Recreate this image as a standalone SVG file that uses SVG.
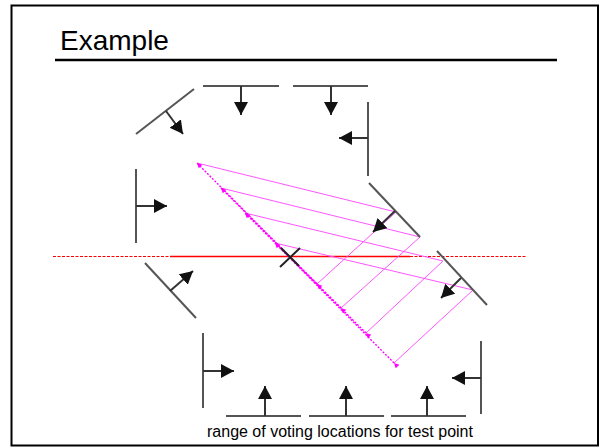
<svg xmlns="http://www.w3.org/2000/svg" width="600" height="447" viewBox="0 0 600 447">
<defs>
<marker id="ah" markerUnits="userSpaceOnUse" markerWidth="15" markerHeight="15" refX="13" refY="7" orient="auto"><path d="M0,0 L13,7 L0,14 z" fill="#111"/></marker>
<marker id="mh" markerUnits="userSpaceOnUse" markerWidth="6" markerHeight="6" refX="5" refY="2.5" orient="auto"><path d="M0,0 L5,2.5 L0,5 z" fill="#f0f"/></marker>
<style>
.wall{stroke:#555;stroke-width:2;fill:none}
.arr{stroke:#333;stroke-width:2;marker-end:url(#ah)}
.vote{stroke:#f5f;stroke-width:1;fill:none}
.range{stroke:#f0f;stroke-width:1.4;stroke-dasharray:2,1.5;fill:none;marker-start:url(#mh);marker-end:url(#mh)}
.title{font-family:"Liberation Sans",Arial,sans-serif;font-size:28px;fill:#000}
.lbl{font-family:"Liberation Sans",Arial,sans-serif;font-size:16px;fill:#000}
</style>
</defs>
<rect x="0" y="0" width="600" height="447" fill="#fff"/>
<rect x="11.5" y="5.5" width="586.5" height="440" fill="none" stroke="#000" stroke-width="2"/>
<text class="title" x="60" y="50">Example</text>
<line x1="55" y1="60" x2="557" y2="60" stroke="#000" stroke-width="2.5"/>

<g id="connectors">
<line x1="53" y1="256.5" x2="170" y2="256.5" stroke="#f00" stroke-width="1" stroke-dasharray="3,1.5"/>
<line x1="170" y1="256.5" x2="410" y2="256.5" stroke="#f00" stroke-width="1.5"/>
<line x1="410" y1="256.5" x2="526" y2="256.5" stroke="#f00" stroke-width="1" stroke-dasharray="3,1.5"/>
<line class="vote" x1="396" y1="212" x2="197" y2="163"/>
<line class="vote" x1="420" y1="237" x2="221" y2="188"/>
<line class="vote" x1="443" y1="261" x2="245" y2="213"/>
<line class="vote" x1="473" y1="290" x2="275" y2="243"/>
<line class="vote" x1="396" y1="212" x2="317" y2="284"/>
<line class="vote" x1="420" y1="237" x2="341" y2="308"/>
<line class="vote" x1="443" y1="261" x2="366" y2="333"/>
<line class="vote" x1="473" y1="290" x2="394" y2="363"/>
<line class="range" x1="317" y1="284" x2="197" y2="163"/>
<line class="range" x1="341" y1="308" x2="221" y2="188"/>
<line class="range" x1="366" y1="333" x2="245" y2="213"/>
<line class="range" x1="394" y1="363" x2="275" y2="243"/>
</g>

<g id="test-point">
<line x1="280" y1="267" x2="300" y2="248" stroke="#222" stroke-width="2"/>
<line x1="281" y1="248" x2="299" y2="266" stroke="#222" stroke-width="2"/>
</g>

<g id="edge-tl"><line class="wall" x1="136" y1="134" x2="194" y2="89"/><line class="arr" x1="166" y1="111" x2="183" y2="134"/></g>
<g id="edge-top1"><line class="wall" x1="203" y1="86" x2="279" y2="86"/><line class="arr" x1="241" y1="86" x2="241" y2="115"/></g>
<g id="edge-top2"><line class="wall" x1="293" y1="86" x2="368" y2="86"/><line class="arr" x1="331" y1="86" x2="331" y2="115"/></g>
<g id="edge-right-top"><line class="wall" x1="368" y1="102" x2="368" y2="176"/><line class="arr" x1="368" y1="138" x2="339" y2="138"/></g>
<g id="edge-left"><line class="wall" x1="136" y1="169" x2="136" y2="243"/><line class="arr" x1="136" y1="206" x2="167" y2="206"/></g>
<g id="edge-ll-diag"><line class="wall" x1="145" y1="263" x2="196" y2="318"/><line class="arr" x1="170" y1="291" x2="193" y2="271"/></g>
<g id="edge-r-diag1"><line class="wall" x1="369" y1="183" x2="420" y2="237"/><line class="arr" x1="395" y1="211" x2="373" y2="232"/></g>
<g id="edge-r-diag2"><line class="wall" x1="437" y1="251" x2="487" y2="305"/><line class="arr" x1="461" y1="278" x2="441" y2="298"/></g>
<g id="edge-ll-vert"><line class="wall" x1="203" y1="333" x2="203" y2="408"/><line class="arr" x1="203" y1="371" x2="234" y2="371"/></g>
<g id="edge-bot1"><line class="wall" x1="226" y1="416" x2="301" y2="416"/><line class="arr" x1="265" y1="416" x2="265" y2="386"/></g>
<g id="edge-bot2"><line class="wall" x1="309" y1="416" x2="384" y2="416"/><line class="arr" x1="346" y1="416" x2="346" y2="386"/></g>
<g id="edge-bot3"><line class="wall" x1="391" y1="416" x2="466" y2="416"/><line class="arr" x1="427" y1="416" x2="427" y2="386"/></g>
<g id="edge-lr-vert"><line class="wall" x1="481" y1="341" x2="481" y2="414"/><line class="arr" x1="481" y1="378" x2="452" y2="378"/></g>

<text class="lbl" x="207" y="437">range of voting locations for test point</text>
</svg>
